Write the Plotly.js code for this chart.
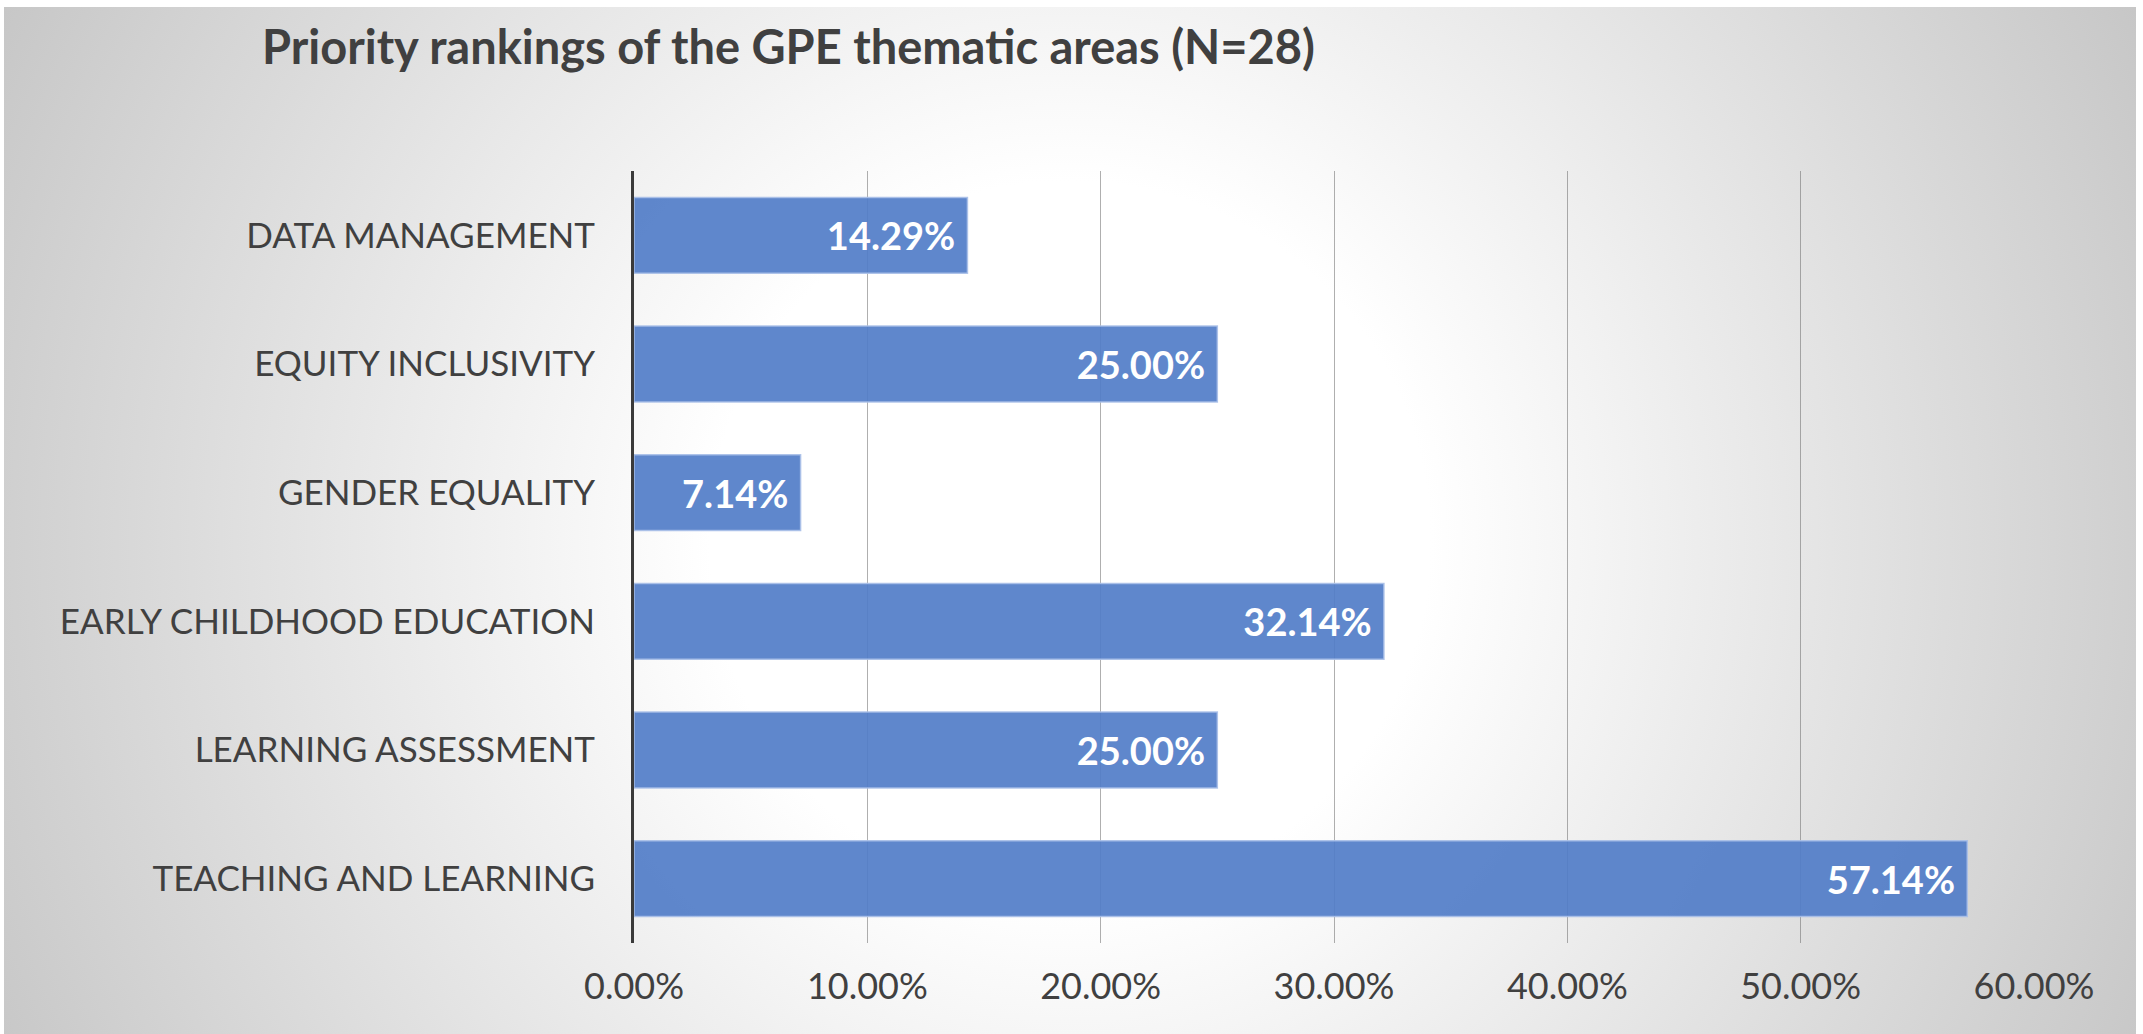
<!DOCTYPE html>
<html>
<head>
<meta charset="utf-8">
<script src="https://cdn.plot.ly/plotly-3.0.1.min.js"></script>
<style>
  html, body { margin: 0; padding: 0; background: #ffffff; }
  #frame {
    position: absolute; left: 4px; top: 7px; width: 2132px; height: 1027px;
    background: radial-gradient(circle at 50% 52%, #ffffff 0px, #ffffff 360px, #c3c3c3 1250px);
  }
  #myDiv { width: 2132px; height: 1027px; }
</style>
</head>
<body>
<div id="frame"><div id="myDiv"></div></div>
<script>
// categories listed top to bottom as in the picture
var areas = ['DATA MANAGEMENT', 'EQUITY INCLUSIVITY', 'GENDER EQUALITY',
             'EARLY CHILDHOOD EDUCATION', 'LEARNING ASSESSMENT', 'TEACHING AND LEARNING'];
var shares = [0.1429, 0.25, 0.0714, 0.3214, 0.25, 0.5714];
var tickVals = [0, 0.1, 0.2, 0.3, 0.4, 0.5, 0.6];

var data = [{
  type: 'bar',
  orientation: 'h',
  y: areas,
  x: shares,
  marker: {
    color: 'rgba(81,125,200,0.92)',
    line: { width: 1.5, color: 'rgba(170,192,232,0.9)' }
  },
  texttemplate: '%{x:.2%}\u00a0',
  textposition: 'inside',
  insidetextanchor: 'end',
  textangle: 0,
  textfont: { family: 'Lato', size: 38, color: '#ffffff', weight: 'bold' },
  hoverinfo: 'y+x'
}];

var layout = {
  width: 2132,
  height: 1027,
  paper_bgcolor: 'rgba(0,0,0,0)',
  plot_bgcolor: 'rgba(0,0,0,0)',
  showlegend: false,
  bargap: 0.41,
  margin: { l: 630, r: 102, t: 164, b: 91 },
  title: {
    text: '<b>Priority rankings of the GPE thematic areas (N=28)</b>',
    font: { family: 'Lato', size: 47, color: '#404040' },
    xref: 'container', x: 0.121, xanchor: 'left',
    yref: 'container', y: 0.961, yanchor: 'middle'
  },
  xaxis: {
    range: [0, 0.6],
    tickvals: tickVals,
    tickformat: '.2%',
    showgrid: true,
    gridcolor: 'rgba(110,110,110,0.55)',
    gridwidth: 1,
    zeroline: false,
    showline: false,
    ticks: '',
    ticklabelstandoff: 19,
    tickfont: { family: 'Lato', size: 36, color: '#404040' }
  },
  yaxis: {
    autorange: 'reversed',
    showgrid: false,
    zeroline: false,
    showline: true,
    linecolor: '#3a3a3a',
    linewidth: 3,
    ticks: '',
    ticklabelstandoff: 29,
    tickfont: { family: 'Lato', size: 35, color: '#404040' }
  }
};

Plotly.newPlot('myDiv', data, layout, { displayModeBar: false });
</script>
</body>
</html>
